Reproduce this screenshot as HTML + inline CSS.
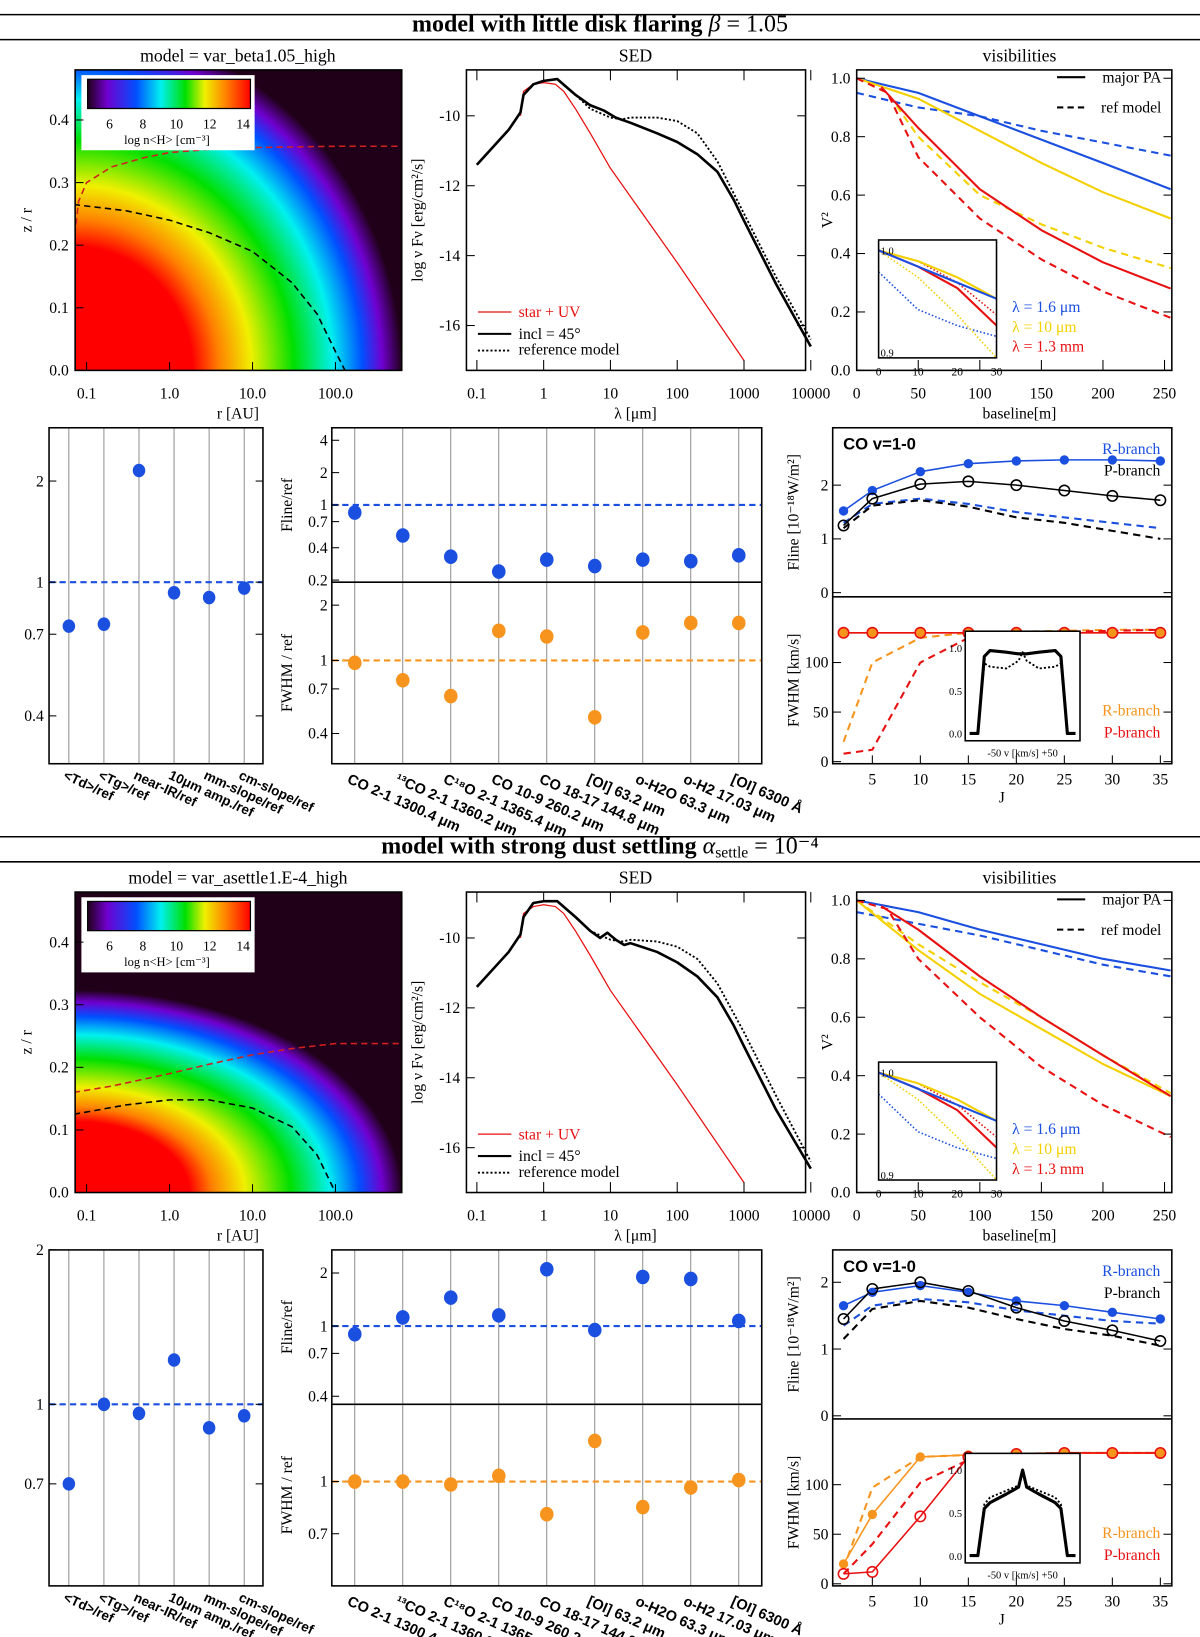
<!DOCTYPE html>
<html><head><meta charset="utf-8"><style>
html,body{margin:0;padding:0;background:#fff;}
svg{display:block;font-family:"Liberation Serif",serif;}
.b{font-family:"Liberation Sans",sans-serif;font-weight:bold;}
</style></head><body>
<svg id="fig" xmlns="http://www.w3.org/2000/svg" width="1200" height="1637" viewBox="0 0 1150 1569" preserveAspectRatio="none">
<defs>
<radialGradient id="dens1" gradientUnits="userSpaceOnUse" cx="72" cy="355" r="313" gradientTransform="translate(72 355) scale(1 1.05) translate(-72 -355)">
<stop offset="0" stop-color="#ff0000"/><stop offset="0.36" stop-color="#ff0000"/><stop offset="0.44" stop-color="#ff8000"/><stop offset="0.54" stop-color="#f0f000"/><stop offset="0.67" stop-color="#00e000"/><stop offset="0.79" stop-color="#00f0f0"/><stop offset="0.88" stop-color="#0050ff"/><stop offset="0.94" stop-color="#7000d0"/><stop offset="1" stop-color="#200018"/>
</radialGradient>
<radialGradient id="dens2" gradientUnits="userSpaceOnUse" cx="72" cy="1143" r="313" gradientTransform="translate(72 1143) scale(1 0.62) translate(-72 -1143)">
<stop offset="0" stop-color="#ff0000"/><stop offset="0.35" stop-color="#ff0000"/><stop offset="0.42" stop-color="#ff8000"/><stop offset="0.52" stop-color="#f0f000"/><stop offset="0.66" stop-color="#00e000"/><stop offset="0.78" stop-color="#00f0f0"/><stop offset="0.87" stop-color="#0050ff"/><stop offset="0.94" stop-color="#7000d0"/><stop offset="1" stop-color="#200018"/>
</radialGradient>
<linearGradient id="cbar" x1="0" x2="1" y1="0" y2="0">
<stop offset="0" stop-color="#200018"/><stop offset="0.12" stop-color="#7000d0"/><stop offset="0.3" stop-color="#0050ff"/><stop offset="0.45" stop-color="#00f0f0"/><stop offset="0.6" stop-color="#00e000"/><stop offset="0.72" stop-color="#f0f000"/><stop offset="0.85" stop-color="#ff8000"/><stop offset="1" stop-color="#ff0000"/>
</linearGradient>
<clipPath id="cl1"><rect x="72" y="67" width="313" height="288"/></clipPath>
<clipPath id="cl2"><rect x="72" y="855" width="313" height="288"/></clipPath>
</defs>
</svg>
<script>
// ---------- DATA ----------
const titles = ["model with little disk flaring", "model with strong dust settling"];
const modelNames = ["model = var_beta1.05_high", "model = var_asettle1.E-4_high"];
const densTicksZ = [0.0, 0.1, 0.2, 0.3, 0.4];
const densTicksR = [0.1, 1.0, 10.0, 100.0];
const densTickLabelsR = ["0.1", "1.0", "10.0", "100.0"];
const h1RedContourR = [0.07, 0.08, 0.1, 0.2, 0.5, 1, 3, 10, 100, 1000];
const h1RedContourZ = [0.2, 0.27, 0.3, 0.325, 0.34, 0.348, 0.353, 0.356, 0.358, 0.358];
const h1BlkContourR = [0.07, 0.3, 1, 3, 10, 30, 60, 100, 130];
const h1BlkContourZ = [0.265, 0.255, 0.24, 0.22, 0.19, 0.14, 0.09, 0.03, 0.0];
const h2RedContourR = [0.07, 0.2, 1, 3, 10, 30, 100, 1000];
const h2RedContourZ = [0.16, 0.17, 0.19, 0.205, 0.22, 0.23, 0.238, 0.238];
const h2BlkContourR = [0.07, 0.3, 1, 3, 10, 30, 60, 100];
const h2BlkContourZ = [0.125, 0.14, 0.148, 0.148, 0.135, 0.105, 0.06, 0.0];

const sedTicksL = [0.1, 1, 10, 100, 1000, 10000];
const sedTickLabels = ["0.1", "1", "10", "100", "1000", "10000"];
const sedTicksF = [-10, -12, -14, -16];
const h1SedL = [0.1, 0.3, 0.45, 0.5, 0.7, 1, 1.6, 3, 5, 8, 12, 20, 50, 100, 200, 400, 700, 1000, 3000, 10000];
const h1SedF = [-11.4, -10.4, -9.9, -9.4, -9.1, -9.0, -8.95, -9.4, -9.7, -9.85, -10.05, -10.2, -10.5, -10.75, -11.1, -11.6, -12.4, -13.0, -14.8, -16.6];
const h1RefL = [0.1, 0.3, 0.45, 0.5, 0.7, 1, 1.6, 3, 5, 10, 15, 20, 50, 100, 200, 400, 1000, 3000, 10000];
const h1RefF = [-11.4, -10.4, -9.9, -9.4, -9.1, -9.0, -8.95, -9.4, -9.8, -10.05, -10.1, -10.05, -10.05, -10.15, -10.5, -11.3, -12.8, -14.6, -16.4];
const h2SedL = [0.1, 0.3, 0.45, 0.5, 0.7, 1, 1.6, 3, 5, 7, 9, 12, 16, 20, 50, 100, 200, 400, 700, 1000, 3000, 10000];
const h2SedF = [-11.4, -10.4, -9.9, -9.4, -9.0, -8.95, -8.95, -9.4, -9.8, -10.0, -9.85, -10.05, -10.2, -10.15, -10.4, -10.7, -11.1, -11.7, -12.5, -13.1, -14.9, -16.6];
const h2RefL = [0.1, 0.3, 0.45, 0.5, 0.7, 1, 1.6, 3, 5, 10, 15, 20, 50, 100, 200, 400, 1000, 3000, 10000];
const h2RefF = [-11.4, -10.4, -9.9, -9.4, -9.0, -8.95, -8.95, -9.4, -9.8, -10.05, -10.1, -10.05, -10.1, -10.25, -10.6, -11.3, -12.7, -14.5, -16.4];
const starL = [0.45, 0.5, 0.7, 1, 1.5, 2, 3, 5, 10, 100, 1000];
const starF = [-10.0, -9.3, -9.1, -9.05, -9.1, -9.3, -9.8, -10.5, -11.5, -14.2, -17.0];

const visTicksB = [0, 50, 100, 150, 200, 250];
const visTicksV = [0.0, 0.2, 0.4, 0.6, 0.8, 1.0];
const h1BlueSolB = [0, 50, 100, 150, 200, 255], h1BlueSolV = [1.0, 0.95, 0.87, 0.79, 0.71, 0.62];
const h1BlueDashB = [0, 50, 100, 150, 200, 255], h1BlueDashV = [0.95, 0.9, 0.87, 0.82, 0.78, 0.735];
const h1YelSolB = [0, 50, 100, 150, 200, 255], h1YelSolV = [1.0, 0.93, 0.82, 0.71, 0.61, 0.52];
const h1YelDashB = [0, 25, 50, 100, 150, 200, 255], h1YelDashV = [1.0, 0.95, 0.8, 0.6, 0.5, 0.42, 0.35];
const h1RedSolB = [20, 50, 100, 150, 200, 255], h1RedSolV = [0.97, 0.83, 0.62, 0.48, 0.37, 0.28];
const h1RedDashB = [0, 25, 50, 100, 150, 200, 255], h1RedDashV = [1.0, 0.95, 0.73, 0.52, 0.38, 0.27, 0.18];
const h2BlueSolB = [0, 50, 100, 150, 200, 255], h2BlueSolV = [1.0, 0.96, 0.9, 0.85, 0.8, 0.76];
const h2BlueDashB = [0, 50, 100, 150, 200, 255], h2BlueDashV = [0.96, 0.92, 0.88, 0.83, 0.78, 0.74];
const h2YelSolB = [0, 50, 100, 150, 200, 255], h2YelSolV = [1.0, 0.83, 0.68, 0.56, 0.44, 0.33];
const h2YelDashB = [0, 50, 100, 150, 200, 255], h2YelDashV = [1.0, 0.85, 0.72, 0.6, 0.47, 0.34];
const h2RedSolB = [20, 50, 100, 150, 200, 255], h2RedSolV = [0.98, 0.9, 0.74, 0.6, 0.47, 0.33];
const h2RedDashB = [0, 25, 50, 100, 150, 200, 255], h2RedDashV = [1.0, 0.97, 0.8, 0.6, 0.43, 0.3, 0.19];
const insetB = [0, 10, 20, 30];
const insBlueSol = [1.0, 0.985, 0.97, 0.955], insYelSol = [1.0, 0.99, 0.975, 0.955], insRedSol = [1.0, 0.985, 0.965, 0.93];
const insBlueDot = [0.98, 0.945, 0.93, 0.92], insYelDot = [1.0, 0.975, 0.94, 0.9], insRedDot = [1.0, 0.99, 0.97, 0.94];

const ratioCats = ["<Td>/ref", "<Tg>/ref", "near-IR/ref", "10\u03bcm amp./ref", "mm-slope/ref", "cm-slope/ref"];
const h1Ratios = [0.74, 0.75, 2.15, 0.93, 0.9, 0.96];
const h2Ratios = [0.7, 1.0, 0.96, 1.22, 0.9, 0.95];
const h1RatioTicks = [0.4, 0.7, 1, 2];
const h2RatioTicks = [0.7, 1, 2];

const lineCats = ["CO 2-1 1300.4 \u03bcm", "\u00b9\u00b3CO 2-1 1360.2 \u03bcm", "C\u00b9\u2078O 2-1 1365.4 \u03bcm", "CO 10-9 260.2 \u03bcm", "CO 18-17 144.8 \u03bcm", "[OI] 63.2 \u03bcm", "o-H2O 63.3 \u03bcm", "o-H2 17.03 \u03bcm", "[OI] 6300 \u00c5"];
const h1Flux = [0.85, 0.52, 0.33, 0.24, 0.31, 0.27, 0.31, 0.3, 0.34];
const h1Fwhm = [0.97, 0.78, 0.64, 1.45, 1.35, 0.49, 1.42, 1.6, 1.6];
const h2Flux = [0.9, 1.12, 1.45, 1.15, 2.1, 0.95, 1.9, 1.85, 1.07];
const h2Fwhm = [1.0, 1.0, 0.98, 1.04, 0.8, 1.32, 0.84, 0.96, 1.01];
const h1FluxTicks = [0.2, 0.4, 0.7, 1, 2, 4], h1FwhmTicks = [0.4, 0.7, 1, 2];
const h2FluxTicks = [0.4, 0.7, 1, 2], h2FwhmTicks = [0.7, 1];

const Jvals = [2, 5, 10, 15, 20, 25, 30, 35];
const Jticks = [5, 10, 15, 20, 25, 30, 35];
const h1Rbr = [1.52, 1.9, 2.25, 2.4, 2.45, 2.47, 2.47, 2.45], h1RbrRef = [1.3, 1.65, 1.75, 1.65, 1.5, 1.4, 1.3, 1.2];
const h1Pbr = [1.25, 1.75, 2.02, 2.07, 2.0, 1.9, 1.8, 1.72], h1PbrRef = [1.2, 1.62, 1.72, 1.6, 1.4, 1.3, 1.15, 1.0];
const h1RW = [130, 130, 130, 130, 130, 130, 130, 130], h1RWRef = [20, 100, 125, 130, 131, 132, 133, 133];
const h1PW = [130, 130, 130, 130, 130, 130, 130, 130], h1PWRef = [8, 12, 100, 125, 130, 131, 132, 133];
const h2Rbr = [1.65, 1.85, 1.95, 1.85, 1.72, 1.65, 1.55, 1.45], h2RbrRef = [1.35, 1.65, 1.75, 1.7, 1.58, 1.5, 1.42, 1.38];
const h2Pbr = [1.45, 1.9, 2.0, 1.87, 1.62, 1.42, 1.28, 1.12], h2PbrRef = [1.15, 1.6, 1.72, 1.62, 1.45, 1.3, 1.2, 1.05];
const h2RW = [20, 70, 128, 130, 131, 132, 132, 132], h2RWRef = [15, 97, 128, 130, 131, 132, 132, 132];
const h2PW = [10, 12, 68, 128, 131, 132, 132, 132], h2PWRef = [10, 40, 102, 125, 131, 132, 132, 132];
const profV = [-65, -55, -47, -40, -20, -5, 0, 5, 20, 40, 47, 55, 65];
const h1Prof = [0, 0, 0.9, 0.97, 0.95, 0.93, 0.93, 0.93, 0.95, 0.97, 0.9, 0, 0];
const h1ProfRef = [0, 0, 0.82, 0.78, 0.76, 0.85, 0.95, 0.85, 0.76, 0.78, 0.82, 0, 0];
const h2Prof = [0, 0, 0.55, 0.62, 0.72, 0.8, 1.0, 0.8, 0.72, 0.62, 0.55, 0, 0];
const h2ProfRef = [0, 0, 0.6, 0.68, 0.76, 0.82, 1.0, 0.82, 0.76, 0.68, 0.6, 0, 0];

// ---------- HELPERS ----------
const NS = "http://www.w3.org/2000/svg";
const svg = document.getElementById("fig");
function mk(tag, attrs, name, interact) {
  const e = document.createElementNS(NS, tag);
  for (const k in attrs) e.setAttribute(k, attrs[k]);
  
  
  svg.appendChild(e);
  return e;
}
function T(x, y, s, o, name) {
  o = o || {};
  const a = {x: x, y: y, "font-size": o.size || 16, fill: o.fill || "#000", "text-anchor": o.anchor || "middle"};
  if (o.tr) a.transform = o.tr;
  if (o.cls) a["class"] = o.cls;
  const e = mk("text", a, name || "label");
  e.textContent = s;
  return e;
}
function L(x1, y1, x2, y2, c, w, name, dash) {
  const a = {x1: x1, y1: y1, x2: x2, y2: y2, stroke: c || "#000", "stroke-width": w || 1};
  if (dash) a["stroke-dasharray"] = dash;
  return mk("line", a, name || "line");
}
function P(xs, ys, fx, fy, c, w, dash, name, clip) {
  let d = "";
  for (let i = 0; i < xs.length; i++) d += (i ? "L" : "M") + fx(xs[i]).toFixed(1) + " " + fy(ys[i]).toFixed(1);
  const a = {d: d, fill: "none", stroke: c, "stroke-width": w, "stroke-linejoin": "round"};
  if (dash) a["stroke-dasharray"] = dash;
  if (clip) a["clip-path"] = clip;
  return mk("path", a, name);
}
function frame(x, y, w, h, name) { return mk("rect", {x: x, y: y, width: w, height: h, fill: "none", stroke: "#000", "stroke-width": 1.5}, name); }
const lg = Math.log10;
const BLUE = "#1a4fe0", YEL = "#f5d000", RED = "#e81010", ORA = "#f7941d";

// ---------- DRAW ----------
function half(k) {
  const dy = k * 788;
  // header
  L(0, 14 + dy, 1150, 14 + dy, "#000", 1.5, "header-rule-top");
  L(0, 38 + dy, 1150, 38 + dy, "#000", 1.5, "header-rule-bottom");
  const t = T(575, 30 + dy, "", {size: 23, anchor: "middle"}, "section-title");
  t.setAttribute("font-weight", "bold");
  t.textContent = titles[k] + "   ";
  const ts = document.createElementNS(NS, "tspan");
  ts.setAttribute("font-weight", "normal"); ts.setAttribute("font-style", "italic");
  
  
  ts.textContent = k === 0 ? "\u03b2" : "\u03b1";
  t.appendChild(ts);
  if (k === 1) {
    const sub = document.createElementNS(NS, "tspan");
    sub.setAttribute("font-weight", "normal"); sub.setAttribute("font-size", "15"); sub.setAttribute("dy", "4");
    
    
    sub.textContent = "settle";
    t.appendChild(sub);
  }
  const tv = document.createElementNS(NS, "tspan");
  tv.setAttribute("font-weight", "normal"); if (k === 1) tv.setAttribute("dy", "-4");
  
  
  tv.textContent = k === 0 ? " = 1.05" : " = 10\u207b\u2074";
  t.appendChild(tv);

  // ---- density map ----
  const xr = r => 83 + 79.5 * lg(r / 0.1), yz = z => 355 + dy - 600 * z;
  T(228, 59 + dy, modelNames[k], {size: 17}, "density-title");
  mk("rect", {x: 72, y: 67 + dy, width: 313, height: 288, fill: "url(#dens" + (k + 1) + ")"}, "density-map");
  P(k ? h2RedContourR : h1RedContourR, k ? h2RedContourZ : h1RedContourZ, xr, yz, "#d02020", 1.5, "6 4", "red-contour", "url(#cl" + (k + 1) + ")");
  P(k ? h2BlkContourR : h1BlkContourR, k ? h2BlkContourZ : h1BlkContourZ, xr, yz, "#000", 1.5, "6 4", "black-contour", "url(#cl" + (k + 1) + ")");
  mk("rect", {x: 78, y: 72 + dy, width: 166, height: 72, fill: "#fff"}, "colorbar-box");
  mk("rect", {x: 84, y: 76 + dy, width: 156, height: 28, fill: "url(#cbar)", stroke: "#000", "stroke-width": 1.2}, "colorbar");
  [6, 8, 10, 12, 14].forEach((v, i) => T(105 + i * 32, 123 + dy, String(v), {size: 13}, "colorbar-tick"));
  T(160, 138 + dy, "log n<H> [cm\u207b\u00b3]", {size: 12}, "colorbar-label");
  frame(72, 67 + dy, 313, 288, "density-frame");
  densTicksZ.forEach(z => { T(66, yz(z) + 5, z.toFixed(1), {size: 15, anchor: "end"}, "z-tick-label"); L(72, yz(z), 80, yz(z), "#000", 1, "z-tick"); });
  densTicksR.forEach((r, i) => { T(xr(r), 382 + dy, densTickLabelsR[i], {size: 15}, "r-tick-label"); L(xr(r), 355 + dy, xr(r), 347 + dy, "#000", 1, "r-tick"); });
  T(228, 401 + dy, "r [AU]", {size: 15}, "x-axis-title");
  T(30, 211 + dy, "z / r", {size: 15, tr: "rotate(-90 30 " + (211 + dy) + ")"}, "y-axis-title");

  // ---- SED ----
  const xl = l => 521 + 64 * lg(l), yf = f => 111 + dy - 33.5 * (f + 10);
  T(609, 59 + dy, "SED", {size: 17}, "sed-title");
  P(starL, starF, xl, yf, RED, 1.2, null, "star-uv-line");
  P(k ? h2RefL : h1RefL, k ? h2RefF : h1RefF, xl, yf, "#000", 1.8, "2 2", "reference-model-line");
  P(k ? h2SedL : h1SedL, k ? h2SedF : h1SedF, xl, yf, "#000", 2.5, null, "sed-line");
  frame(447, 67 + dy, 325, 288, "sed-frame");
  sedTicksF.forEach(f => { T(441, yf(f) + 5, String(f), {size: 15, anchor: "end"}, "sed-y-tick-label"); L(447, yf(f), 455, yf(f), "#000", 1, "sed-y-tick"); L(772, yf(f), 764, yf(f), "#000", 1, "sed-y-tick"); });
  sedTicksL.forEach((l, i) => { T(xl(l), 382 + dy, sedTickLabels[i], {size: 15}, "sed-x-tick-label"); L(xl(l), 355 + dy, xl(l), 345 + dy, "#000", 1, "sed-x-tick"); L(xl(l), 67 + dy, xl(l), 77 + dy, "#000", 1, "sed-x-tick"); });
  T(609, 401 + dy, "\u03bb [\u03bcm]", {size: 15}, "sed-x-axis-title");
  T(405, 211 + dy, "log \u03bd F\u03bd [erg/cm\u00b2/s]", {size: 15, tr: "rotate(-90 405 " + (211 + dy) + ")"}, "sed-y-axis-title");
  L(458, 299 + dy, 490, 299 + dy, RED, 1.2, "legend-star-line"); T(497, 304 + dy, "star + UV", {size: 15, anchor: "start", fill: RED}, "legend-star");
  L(458, 320 + dy, 490, 320 + dy, "#000", 2, "legend-incl-line"); T(497, 325 + dy, "incl = 45\u00b0", {size: 15, anchor: "start"}, "legend-incl");
  L(458, 336 + dy, 490, 336 + dy, "#000", 1.8, "legend-ref-line", "2 2"); T(497, 340 + dy, "reference model", {size: 15, anchor: "start"}, "legend-ref");

  // ---- visibilities ----
  const xb = b => 821 + 1.18 * b, yv = v => 355 + dy - 280 * v;
  T(977, 59 + dy, "visibilities", {size: 17}, "vis-title");
  const V = k ? [h2BlueSolB, h2BlueSolV, h2BlueDashB, h2BlueDashV, h2YelSolB, h2YelSolV, h2YelDashB, h2YelDashV, h2RedSolB, h2RedSolV, h2RedDashB, h2RedDashV]
             : [h1BlueSolB, h1BlueSolV, h1BlueDashB, h1BlueDashV, h1YelSolB, h1YelSolV, h1YelDashB, h1YelDashV, h1RedSolB, h1RedSolV, h1RedDashB, h1RedDashV];
  const cl = [BLUE, BLUE, YEL, YEL, RED, RED];
  for (let i = 0; i < 6; i++) P(V[2 * i], V[2 * i + 1], xb, yv, cl[i], 2, i % 2 ? "7 5" : null, i % 2 ? "vis-ref-curve" : "vis-curve");
  frame(821, 67 + dy, 302, 288, "vis-frame");
  visTicksV.forEach(v => { T(815, yv(v) + 5, v.toFixed(1), {size: 15, anchor: "end"}, "vis-y-tick-label"); L(821, yv(v), 829, yv(v), "#000", 1, "vis-y-tick"); L(1123, yv(v), 1115, yv(v), "#000", 1, "vis-y-tick"); });
  visTicksB.forEach(b => { T(xb(b), 382 + dy, String(b), {size: 15}, "vis-x-tick-label"); L(xb(b), 355 + dy, xb(b), 345 + dy, "#000", 1, "vis-x-tick"); });
  T(977, 401 + dy, "baseline[m]", {size: 15}, "vis-x-axis-title");
  T(798, 211 + dy, "V\u00b2", {size: 15, tr: "rotate(-90 798 " + (211 + dy) + ")"}, "vis-y-axis-title");
  L(1013, 74 + dy, 1040, 74 + dy, "#000", 2, "legend-major-line"); T(1113, 79 + dy, "major PA", {size: 15, anchor: "end"}, "legend-major-pa");
  L(1013, 103 + dy, 1040, 103 + dy, "#000", 2, "legend-refmodel-line", "6 4"); T(1113, 108 + dy, "ref model", {size: 15, anchor: "end"}, "legend-ref-model");
  T(970, 299 + dy, "\u03bb = 1.6 \u03bcm", {size: 15, anchor: "start", fill: BLUE}, "legend-lambda-blue");
  T(970, 318 + dy, "\u03bb = 10 \u03bcm", {size: 15, anchor: "start", fill: YEL}, "legend-lambda-yellow");
  T(970, 337 + dy, "\u03bb = 1.3 mm", {size: 15, anchor: "start", fill: RED}, "legend-lambda-red");
  // inset
  const xi = b => 842 + 3.77 * b, yi = v => 343 + dy - 1030 * (v - 0.9);
  mk("rect", {x: 842, y: 230 + dy, width: 113, height: 113, fill: "#fff"}, "vis-inset-bg");
  P(insetB, insBlueDot, xi, yi, BLUE, 1.5, "1.5 2", "inset-dotted");
  P(insetB, insYelDot, xi, yi, YEL, 1.5, "1.5 2", "inset-dotted");
  P(insetB, insRedDot, xi, yi, RED, 1.5, "1.5 2", "inset-dotted");
  P(insetB, insYelSol, xi, yi, YEL, 2, null, "inset-solid");
  P(insetB, insRedSol, xi, yi, RED, 2, null, "inset-solid");
  P(insetB, insBlueSol, xi, yi, BLUE, 2, null, "inset-solid");
  frame(842, 230 + dy, 113, 113, "vis-inset-frame");
  T(844, yi(1.0) + 4, "1.0", {size: 10, anchor: "start"}, "inset-tick-label");
  T(844, yi(0.905) + 4, "0.9", {size: 10, anchor: "start"}, "inset-tick-label");
  insetB.forEach(b => T(xi(b), 360 + dy, String(b), {size: 11}, "inset-x-tick-label"));

  // ---- ratio panel (left) ----
  const top2 = 410 + dy, bot2 = 732 + dy;
  const xc = i => 66 + 33.6 * i;
  const yl = k ? (v => 1346 - 492 * lg(v)) : (v => 558 - 322 * lg(v));
  ratioCats.forEach((c, i) => L(xc(i), top2, xc(i), bot2, "#777", 0.8, "category-gridline"));
  L(47, yl(1), 252, yl(1), BLUE, 2, "ratio-unity-line", "6 4");
  (k ? h2Ratios : h1Ratios).forEach((v, i) => mk("ellipse", {cx: xc(i), cy: yl(v), rx: 6, ry: 6.5, fill: BLUE}, "ratio-point"));
  frame(47, top2, 205, 322, "ratio-frame");
  (k ? h2RatioTicks : h1RatioTicks).forEach(v => { T(42, yl(v) + 5, String(v), {size: 15, anchor: "end"}, "ratio-tick-label"); L(47, yl(v), 54, yl(v), "#000", 1, "ratio-tick"); L(252, yl(v), 245, yl(v), "#000", 1, "ratio-tick"); });
  ratioCats.forEach((c, i) => T(xc(i) - 6, bot2 + 14, c, {size: 13, anchor: "start", cls: "b", tr: "rotate(25 " + (xc(i) - 6) + " " + (bot2 + 14) + ")"}, "ratio-category-label"));

  // ---- line ratio panel (middle) ----
  const MX = 318;
  const xm = i => 340 + 46 * i;
  const split = k ? 1346 : 558;
  const yF = k ? (v => 1271 - 169 * lg(v)) : (v => 484 - 103 * lg(v));
  const yW = k ? (v => 1420 - 323 * lg(v)) : (v => 633 - 176 * lg(v));
  lineCats.forEach((c, i) => L(xm(i), top2, xm(i), bot2, "#777", 0.8, "line-gridline"));
  L(MX, yF(1), 730, yF(1), BLUE, 2, "flux-unity-line", "6 4");
  L(MX, yW(1), 730, yW(1), ORA, 2, "fwhm-unity-line", "6 4");
  (k ? h2Flux : h1Flux).forEach((v, i) => mk("ellipse", {cx: xm(i), cy: yF(v), rx: 6.5, ry: 7, fill: BLUE}, "flux-ratio-point"));
  (k ? h2Fwhm : h1Fwhm).forEach((v, i) => mk("ellipse", {cx: xm(i), cy: yW(v), rx: 6.5, ry: 7, fill: ORA}, "fwhm-ratio-point"));
  frame(MX, top2, 730 - MX, 322, "line-ratio-frame");
  L(MX, split, 730, split, "#000", 1.5, "panel-divider");
  (k ? h2FluxTicks : h1FluxTicks).forEach(v => { T(MX - 4, yF(v) + 5, String(v), {size: 15, anchor: "end"}, "flux-tick-label"); L(MX, yF(v), MX + 7, yF(v), "#000", 1, "flux-tick"); });
  (k ? h2FwhmTicks : h1FwhmTicks).forEach(v => { T(MX - 4, yW(v) + 5, String(v), {size: 15, anchor: "end"}, "fwhm-tick-label"); L(MX, yW(v), MX + 7, yW(v), "#000", 1, "fwhm-tick"); });
  const mF = (top2 + split) / 2, mW = (split + bot2) / 2;
  T(280, mF, "Fline/ref", {size: 15, tr: "rotate(-90 280 " + mF + ")"}, "flux-y-axis-title");
  T(280, mW, "FWHM / ref", {size: 15, tr: "rotate(-90 280 " + mW + ")"}, "fwhm-y-axis-title");
  lineCats.forEach((c, i) => {
    const x0 = xm(i) - 8, y0 = bot2 + 18;
    T(x0, y0, c, {size: 14, anchor: "start", cls: "b", tr: "rotate(24 " + x0 + " " + y0 + ")"}, "line-category-label");
  });

  // ---- CO ladder (right) ----
  const RX = 798;
  const xJ = J => 790 + 9.2 * J;
  const splitR = 572 + dy;
  const yFr = k ? (v => 1357 - 64 * v) : (v => 568 - 51.5 * v);
  const yWr = k ? (v => 1518 - 0.95 * v) : (v => 730 - 0.95 * v);
  P(Jvals, k ? h2RbrRef : h1RbrRef, xJ, yFr, BLUE, 2, "7 5", "r-branch-ref");
  P(Jvals, k ? h2PbrRef : h1PbrRef, xJ, yFr, "#000", 2, "7 5", "p-branch-ref");
  P(Jvals, k ? h2Rbr : h1Rbr, xJ, yFr, BLUE, 1.5, null, "r-branch-line");
  P(Jvals, k ? h2Pbr : h1Pbr, xJ, yFr, "#000", 1.5, null, "p-branch-line");
  Jvals.forEach((J, i) => mk("circle", {cx: xJ(J), cy: yFr((k ? h2Rbr : h1Rbr)[i]), r: 4.5, fill: BLUE}, "r-branch-point"));
  Jvals.forEach((J, i) => mk("circle", {cx: xJ(J), cy: yFr((k ? h2Pbr : h1Pbr)[i]), r: 5, fill: "none", stroke: "#000", "stroke-width": 1.5}, "p-branch-point"));
  P(Jvals, k ? h2RWRef : h1RWRef, xJ, yWr, ORA, 2, "7 5", "r-fwhm-ref");
  P(Jvals, k ? h2PWRef : h1PWRef, xJ, yWr, RED, 2, "7 5", "p-fwhm-ref");
  P(Jvals, k ? h2RW : h1RW, xJ, yWr, ORA, 1.5, null, "r-fwhm-line");
  P(Jvals, k ? h2PW : h1PW, xJ, yWr, RED, 1.5, null, "p-fwhm-line");
  Jvals.forEach((J, i) => mk("circle", {cx: xJ(J), cy: yWr((k ? h2RW : h1RW)[i]), r: 4.5, fill: ORA}, "r-fwhm-point"));
  Jvals.forEach((J, i) => mk("circle", {cx: xJ(J), cy: yWr((k ? h2PW : h1PW)[i]), r: 5, fill: "none", stroke: RED, "stroke-width": 1.5}, "p-fwhm-point"));
  frame(RX, top2, 1123 - RX, 322, "co-frame");
  L(RX, splitR, 1123, splitR, "#000", 1.5, "co-divider");
  [0, 1, 2].forEach(v => { T(RX - 4, yFr(v) + 5, String(v), {size: 15, anchor: "end"}, "co-flux-tick-label"); L(RX, yFr(v), RX + 8, yFr(v), "#000", 1, "co-tick"); L(1123, yFr(v), 1115, yFr(v), "#000", 1, "co-tick"); });
  [0, 50, 100].forEach(v => { T(RX - 4, yWr(v) + 5, String(v), {size: 15, anchor: "end"}, "co-fwhm-tick-label"); L(RX, yWr(v), RX + 8, yWr(v), "#000", 1, "co-tick"); L(1123, yWr(v), 1115, yWr(v), "#000", 1, "co-tick"); });
  Jticks.forEach(J => { T(xJ(J), bot2 + 20, String(J), {size: 15}, "j-tick-label"); L(xJ(J), bot2, xJ(J), bot2 - 8, "#000", 1, "j-tick"); });
  T(960, bot2 + 37, "J", {size: 15}, "j-axis-title");
  const mR = (top2 + splitR) / 2, mWr = (splitR + bot2) / 2;
  T(765, mR, "Fline [10\u207b\u00b9\u2078W/m\u00b2]", {size: 15, tr: "rotate(-90 765 " + mR + ")"}, "co-flux-axis-title");
  T(765, mWr, "FWHM [km/s]", {size: 15, tr: "rotate(-90 765 " + mWr + ")"}, "co-fwhm-axis-title");
  T(808, top2 + 21, "CO v=1-0", {size: 16, anchor: "start", cls: "b"}, "co-panel-label");
  T(1112, top2 + 25, "R-branch", {size: 15, anchor: "end", fill: BLUE}, "legend-r-branch");
  T(1112, top2 + 46, "P-branch", {size: 15, anchor: "end"}, "legend-p-branch");
  T(1112, bot2 - 46, "R-branch", {size: 15, anchor: "end", fill: ORA}, "legend-r-fwhm");
  T(1112, bot2 - 25, "P-branch", {size: 15, anchor: "end", fill: RED}, "legend-p-fwhm");
  // profile inset
  const bx = 925, by = 605 + dy;
  const xp = v => bx + 55 + 0.78 * v, yp = v => by + 98 - 82 * v;
  mk("rect", {x: bx, y: by, width: 110, height: 105, fill: "#fff"}, "profile-inset-bg");
  P(profV, k ? h2ProfRef : h1ProfRef, xp, yp, "#000", 1.8, "2 2", "profile-ref");
  P(profV, k ? h2Prof : h1Prof, xp, yp, "#000", 3, null, "profile-line");
  frame(bx, by, 110, 105, "profile-inset-frame");
  T(bx - 3, yp(1) + 4, "1.0", {size: 10, anchor: "end"}, "profile-tick-label");
  T(bx - 3, yp(0.5) + 4, "0.5", {size: 10, anchor: "end"}, "profile-tick-label");
  T(bx - 3, yp(0) + 4, "0.0", {size: 10, anchor: "end"}, "profile-tick-label");
  T(bx + 55, by + 120, "-50  v [km/s]  +50", {size: 10}, "profile-x-label");
}
half(0);
half(1);
</script>
</body></html>
